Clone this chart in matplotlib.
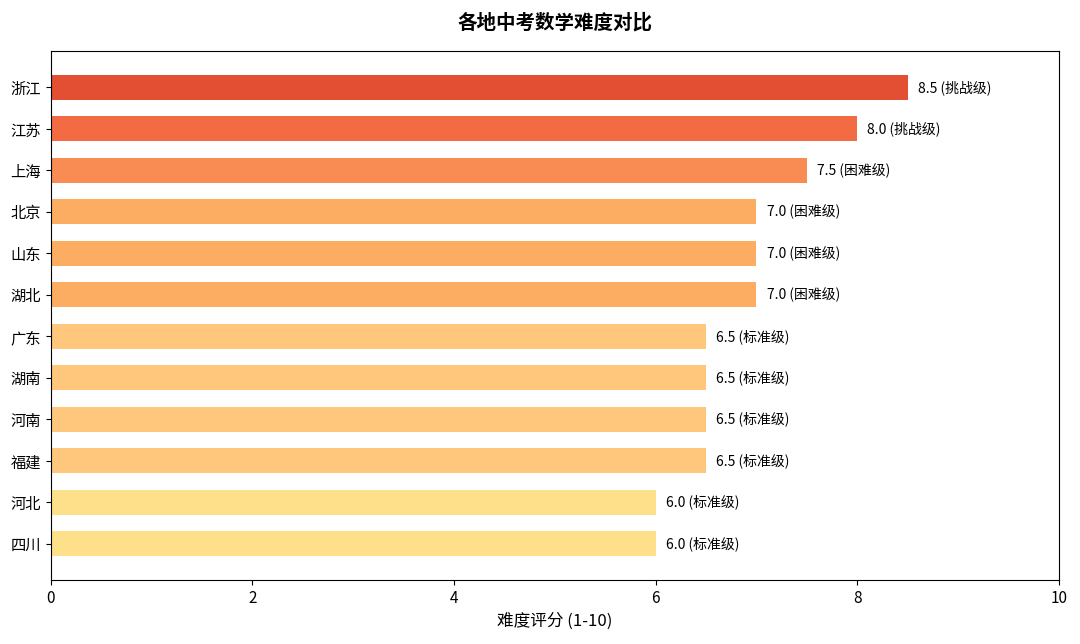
import matplotlib
matplotlib.use("Agg")
import matplotlib.pyplot as plt

plt.rcParams['font.family'] = ['Noto Sans CJK SC', 'DejaVu Sans']
plt.rcParams['axes.unicode_minus'] = False

provinces = ["浙江", "江苏", "上海", "北京", "山东", "湖北",
             "广东", "湖南", "河南", "福建", "河北", "四川"]
scores = [8.5, 8.0, 7.5, 7.0, 7.0, 7.0, 6.5, 6.5, 6.5, 6.5, 6.0, 6.0]
levels = ["挑战级", "挑战级", "困难级", "困难级", "困难级", "困难级",
          "标准级", "标准级", "标准级", "标准级", "标准级", "标准级"]
colors = ["#e34f33", "#f36b43", "#f88c52", "#fdad61", "#fdad61", "#fdad61",
          "#fec77c", "#fec77c", "#fec77c", "#fec77c", "#fee08b", "#fee08b"]

fig, ax = plt.subplots(figsize=(10.8, 6.44), dpi=100)
ypos = list(range(len(provinces)))
ax.barh(ypos, scores, height=0.6, color=colors)
ax.invert_yaxis()
ax.set_yticks(ypos)
ax.set_yticklabels(provinces, fontsize=11)
ax.tick_params(axis='x', labelsize=11)

for y, s, lv in zip(ypos, scores, levels):
    ax.text(s + 0.1, y, f"{s:.1f} ({lv})", va='center', ha='left', fontsize=10)

ax.set_xlim(0, 10)
ax.set_xlabel("难度评分 (1-10)", fontsize=12)
ax.set_title("各地中考数学难度对比", fontsize=14, fontweight='bold', pad=16)

fig.subplots_adjust(left=0.047, right=0.9805, top=0.921, bottom=0.099)
fig.savefig("out.png", dpi=100)
